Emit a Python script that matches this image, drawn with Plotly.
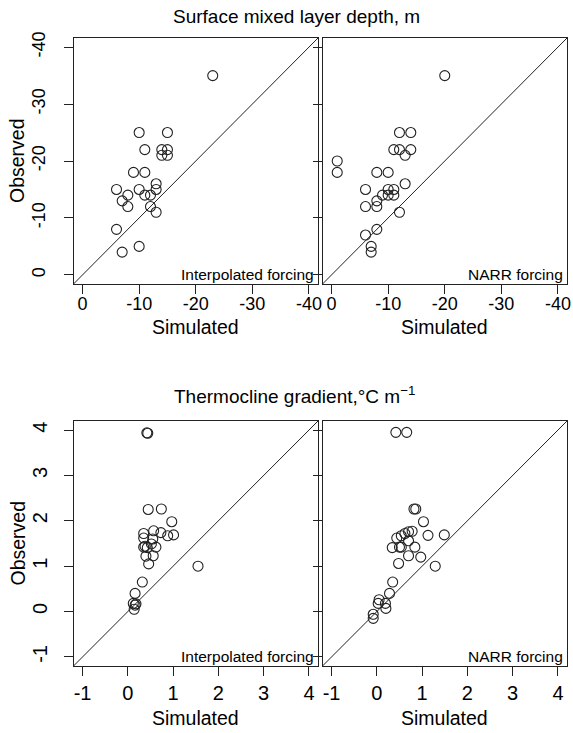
import plotly.graph_objects as go

W, H = 573, 733

# ---- Data: Surface mixed layer depth (m) ----
mld_interp_sim = [-23, -10, -15, -11, -14, -15, -14, -15, -9, -11, -13, -6, -10, -13,
                  -8, -11, -12, -7, -8, -12, -13, -6, -10, -7]
mld_interp_obs = [-35, -25, -25, -22, -22, -22, -21, -21, -18, -18, -16, -15, -15, -15,
                  -14, -14, -14, -13, -12, -12, -11, -8, -5, -4]
mld_narr_sim = [-20, -12, -14, -11, -12, -14, -13, -1, -1, -8, -10, -13, -6, -10, -11,
                -9, -10, -11, -8, -6, -8, -12, -8, -6, -7, -7]
mld_narr_obs = [-35, -25, -25, -22, -22, -22, -21, -20, -18, -18, -18, -16, -15, -15, -15,
                -14, -14, -14, -13, -12, -12, -11, -8, -7, -5, -4]

# ---- Data: Thermocline gradient (degC/m) ----
tg_interp_sim = [0.42, 0.44, 0.45, 0.74, 0.97, 0.35, 0.57, 0.73, 0.88, 1.01, 0.35, 0.55,
                 0.52, 0.35, 0.38, 0.43, 0.62, 0.40, 0.56, 0.46, 1.55, 0.32, 0.16, 0.12,
                 0.16, 0.14, 0.18]
tg_interp_obs = [3.94, 3.93, 2.25, 2.26, 1.98, 1.72, 1.78, 1.74, 1.67, 1.69, 1.62, 1.60,
                 1.49, 1.42, 1.44, 1.41, 1.42, 1.22, 1.23, 1.05, 1.00, 0.65, 0.40, 0.18,
                 0.14, 0.05, 0.17]
tg_narr_sim = [0.42, 0.66, 0.82, 0.86, 1.03, 0.44, 0.54, 0.62, 0.70, 0.78, 1.13, 1.49,
               0.70, 0.34, 0.50, 0.54, 0.84, 0.70, 0.97, 0.48, 1.29, 0.35, 0.28, 0.05,
               0.19, 0.03, 0.20, -0.08, -0.08]
tg_narr_obs = [3.95, 3.95, 2.26, 2.26, 1.98, 1.62, 1.67, 1.72, 1.76, 1.77, 1.68, 1.69,
               1.56, 1.41, 1.42, 1.42, 1.42, 1.23, 1.20, 1.06, 1.00, 0.65, 0.40, 0.26,
               0.18, 0.18, 0.07, -0.06, -0.15]

mld_ticks = [0, -10, -20, -30, -40]
tg_ticks = [-1, 0, 1, 2, 3, 4]

top_title = "Surface mixed layer depth, m"
bot_title = "Thermocline gradient,°C m<sup>−1</sup>"
panel_labels = ["Interpolated forcing", "NARR forcing", "Interpolated forcing", "NARR forcing"]


def rng(lo, hi):
    e = 0.04 * (hi - lo)
    return [lo - e, hi + e]


mld_rng = rng(0, -40)
tg_rng = rng(-1, 4)

# panel boxes in pixels: left, right, top, bottom
boxes = [
    (73.5, 318.0, 38.0, 284.0),
    (322.5, 567.0, 38.0, 284.0),
    (73.5, 318.0, 421.0, 666.0),
    (322.5, 567.0, 421.0, 666.0),
]

panels = [
    (mld_interp_sim, mld_interp_obs, mld_rng, mld_ticks),
    (mld_narr_sim, mld_narr_obs, mld_rng, mld_ticks),
    (tg_interp_sim, tg_interp_obs, tg_rng, tg_ticks),
    (tg_narr_sim, tg_narr_obs, tg_rng, tg_ticks),
]

INK = "#222222"
FONT = "Liberation Sans, Arial, sans-serif"

fig = go.Figure()
layout = dict(
    width=W, height=H,
    margin=dict(l=0, r=0, t=0, b=0),
    paper_bgcolor="white", plot_bgcolor="white",
    showlegend=False,
    font=dict(family=FONT, color="black", size=17),
)

annotations = []
for i, ((x, y, r, ticks), (l, rr, t, b)) in enumerate(zip(panels, boxes)):
    n = "" if i == 0 else str(i + 1)
    xa, ya = "x" + n, "y" + n
    top = i < 2
    tfs = 18 if top else 20
    fig.add_trace(go.Scatter(x=[r[0], r[1]], y=[r[0], r[1]], mode="lines",
                             line=dict(color=INK, width=1), xaxis=xa, yaxis=ya,
                             hoverinfo="skip"))
    fig.add_trace(go.Scatter(x=x, y=y, mode="markers", xaxis=xa, yaxis=ya,
                             marker=dict(symbol="circle-open", size=10,
                                         color=INK, line=dict(width=1.1, color=INK))))
    common = dict(showgrid=False, zeroline=False, showline=True, mirror=True,
                  linecolor=INK, linewidth=1, ticks="outside", ticklen=9,
                  tickwidth=1, tickcolor=INK, tickvals=ticks,
                  ticktext=[str(v) for v in ticks], automargin=False,
                  tickfont=dict(family=FONT, size=tfs, color="black"))
    layout["xaxis" + n] = dict(common, domain=[l / W, rr / W], range=r,
                               anchor=ya, ticklabelstandoff=(-6 if top else 0))
    layout["yaxis" + n] = dict(common, domain=[1 - b / H, 1 - t / H], range=r,
                               anchor=xa, tickangle=-90,
                               ticklabelstandoff=(11 if top else 9),
                               showticklabels=(i % 2 == 0))
    # panel label
    annotations.append(dict(text=panel_labels[i], x=(rr - 2) / W, y=1 - (b - 9.5) / H,
                            xref="paper", yref="paper", xanchor="right", yanchor="middle",
                            showarrow=False, font=dict(family=FONT, size=15.5, color="black")))
    # x axis title
    ty = 327 if top else 718
    annotations.append(dict(text="Simulated", x=((l + rr) / 2) / W, y=1 - ty / H,
                            xref="paper", yref="paper", xanchor="center", yanchor="middle",
                            showarrow=False, font=dict(family=FONT, size=19.5, color="black")))
    if i % 2 == 0:
        annotations.append(dict(text="Observed", x=17 / W, y=1 - ((t + b) / 2) / H,
                                xref="paper", yref="paper", xanchor="center", yanchor="middle",
                                textangle=-90, showarrow=False,
                                font=dict(family=FONT, size=19.5, color="black")))

annotations.append(dict(text=top_title, x=296 / W, y=1 - 17 / H, xref="paper", yref="paper",
                        xanchor="center", yanchor="middle", showarrow=False,
                        font=dict(family=FONT, size=19, color="black")))
annotations.append(dict(text=bot_title, x=294 / W, y=1 - 395 / H, xref="paper", yref="paper",
                        xanchor="center", yanchor="middle", showarrow=False,
                        font=dict(family=FONT, size=19, color="black")))
layout["annotations"] = annotations

fig.update_layout(**layout)
fig.write_html("out.html")
